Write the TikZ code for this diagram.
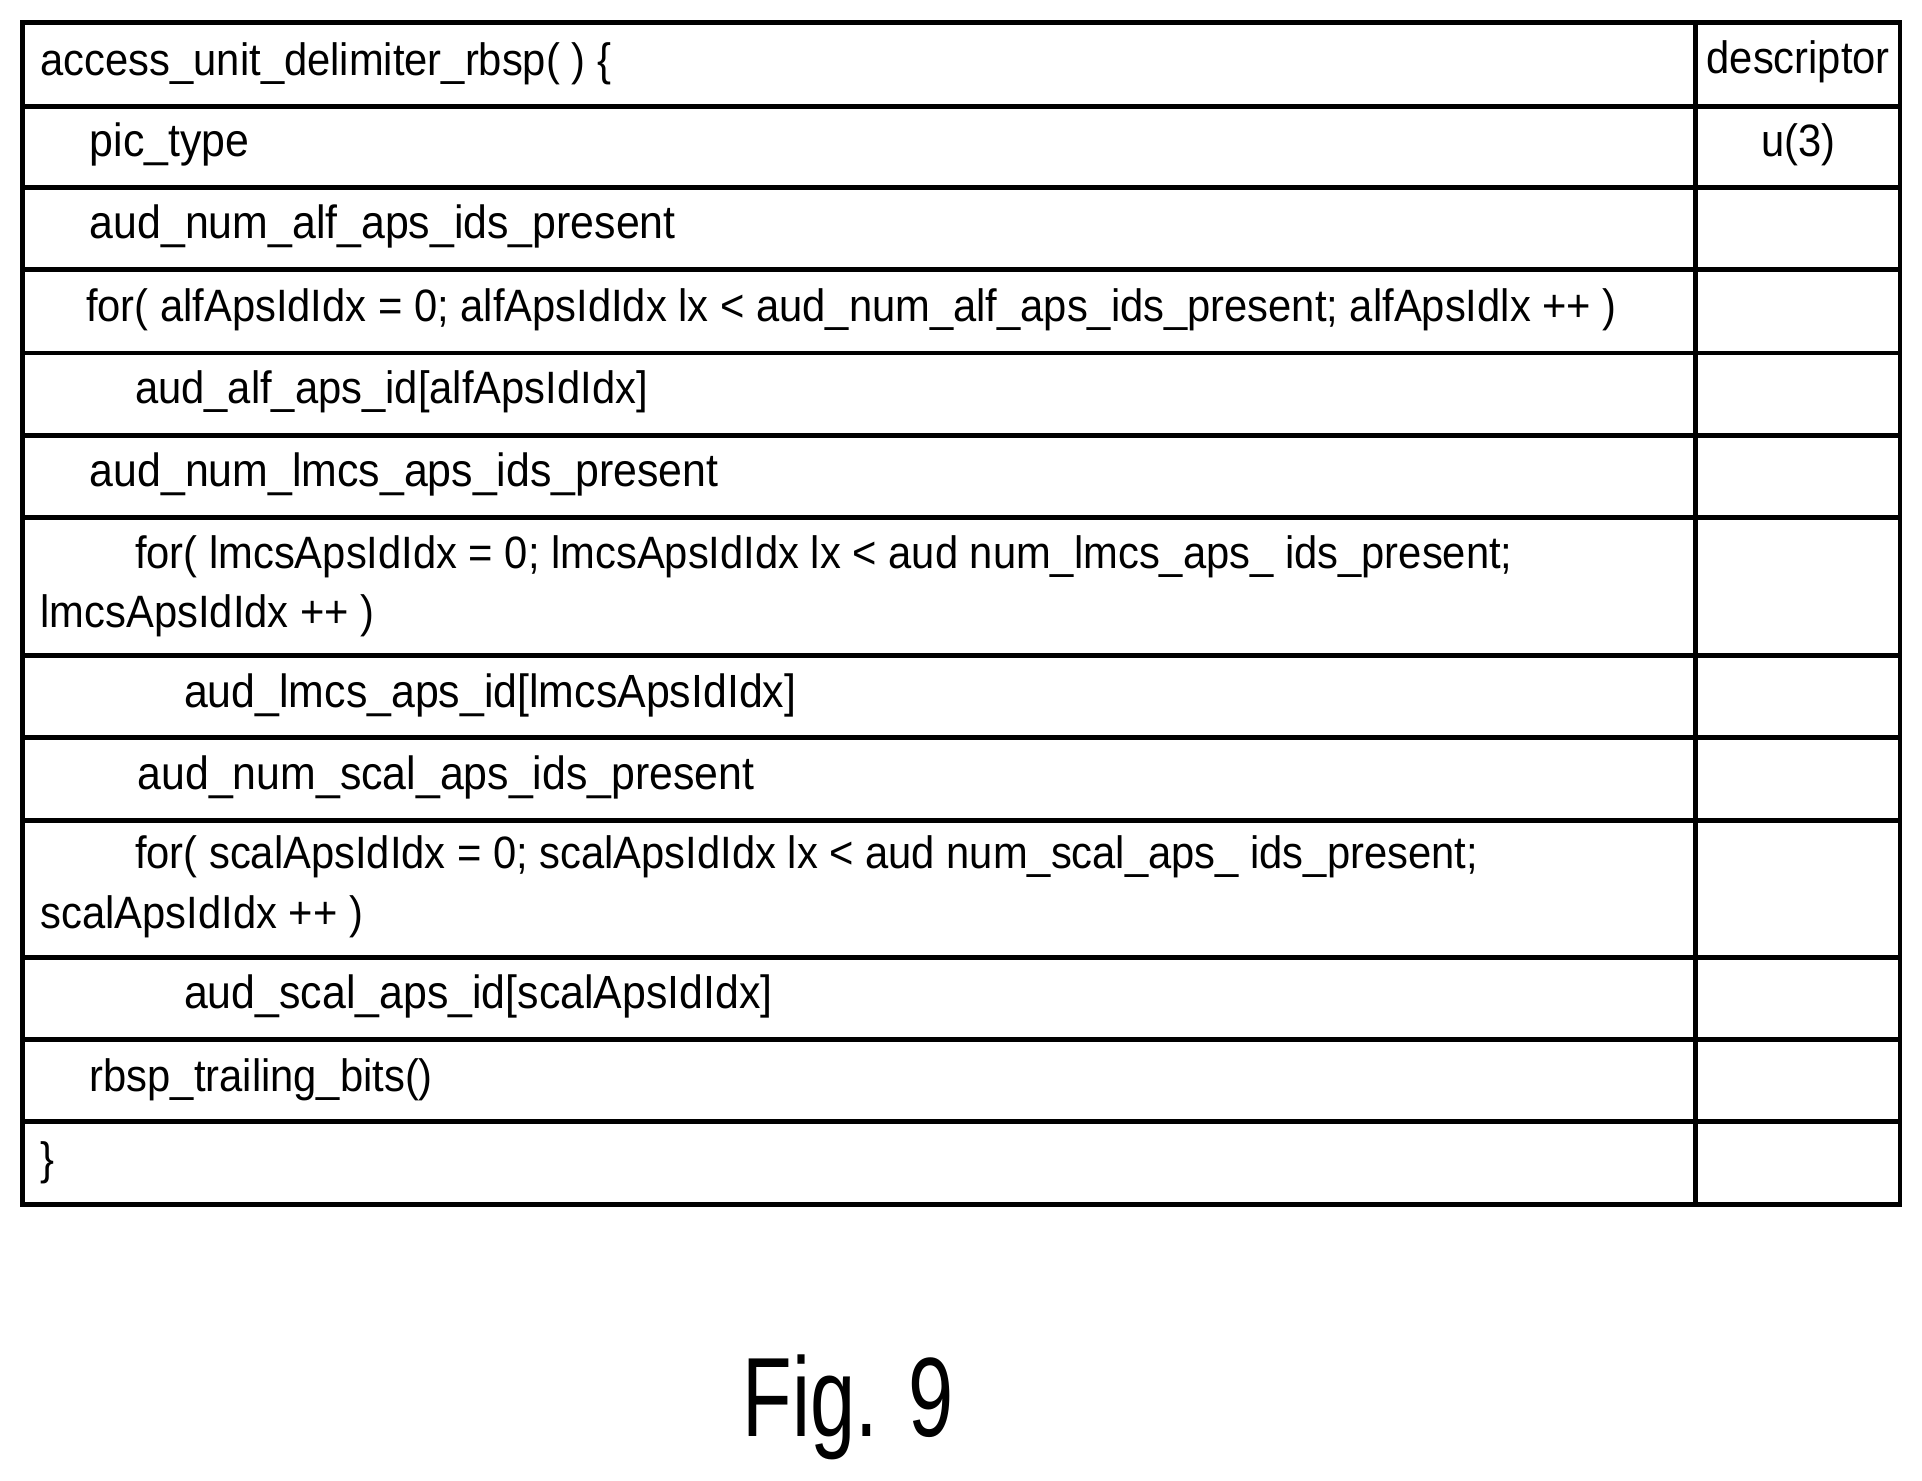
\documentclass[tikz,border=0pt]{standalone}
\usepackage{fontspec}
\setmainfont{Liberation Sans}[FakeStretch=0.92]
\newfontfamily\figfont{Liberation Sans}[FakeStretch=0.72]
\begin{document}
\begin{tikzpicture}[x=1pt,y=-1pt,
  g/.style={line width=4pt},
  t/.style={anchor=west,inner sep=0pt,font=\fontsize{37}{40}\selectfont},
  tb/.style={anchor=west,inner sep=0pt,font=\fontsize{38}{40}\selectfont},
  c/.style={anchor=center,inner sep=0pt,font=\fontsize{37}{40}\selectfont}]
\useasboundingbox (0,0) rectangle (1568,1208);
\draw[g] (18,18) rectangle (1550,983);
\draw[g] (1383,18) -- (1383,983);
\foreach \y in {87,153,220,288,355,422,535,602,669,781,848,915}
  \draw[g] (18,\y) -- (1550,\y);
\node[t] (r1) at (33,52) {access\_unit\_delimiter\_rbsp( ) \{};
\node[c] (d1) at (1467,50) {descriptor};
\node[tb] (r2) at (73,118) {pic\_type};
\node[c] (d2) at (1467,118) {u(3)};
\node[tb] (r3) at (73,185) {aud\_num\_alf\_aps\_ids\_present};
\node[t] (r4) at (70,253) {for( alfApsIdIdx = 0; alfApsIdIdx lx < aud\_num\_alf\_aps\_ids\_present; alfApsIdlx ++ )};
\node[t] (r5) at (110,320) {aud\_alf\_aps\_id[alfApsIdIdx]};
\node[tb] (r6) at (73,387) {aud\_num\_lmcs\_aps\_ids\_present};
\node[t] (r7a) at (110,454) {for( lmcsApsIdIdx = 0; lmcsApsIdIdx lx < aud num\_lmcs\_aps\_ ids\_present;};
\node[t] (r7b) at (33,502) {lmcsApsIdIdx ++ )};
\node[tb] (r8) at (150,567) {aud\_lmcs\_aps\_id[lmcsApsIdIdx]};
\node[tb] (r9) at (112,634) {aud\_num\_scal\_aps\_ids\_present};
\node[t] (r10a) at (110,699) {for( scalApsIdIdx = 0; scalApsIdIdx lx < aud num\_scal\_aps\_ ids\_present;};
\node[t] (r10b) at (33,748) {scalApsIdIdx ++ )};
\node[tb] (r11) at (150,813) {aud\_scal\_aps\_id[scalApsIdIdx]};
\node[t] (r12) at (73,881) {rbsp\_trailing\_bits()};
\node[t] (r13) at (33,949) {\}};
\node[c,font=\figfont\fontsize{92}{96}\selectfont] (fig) at (692,1148) {Fig. 9};
\end{tikzpicture}
\end{document}
